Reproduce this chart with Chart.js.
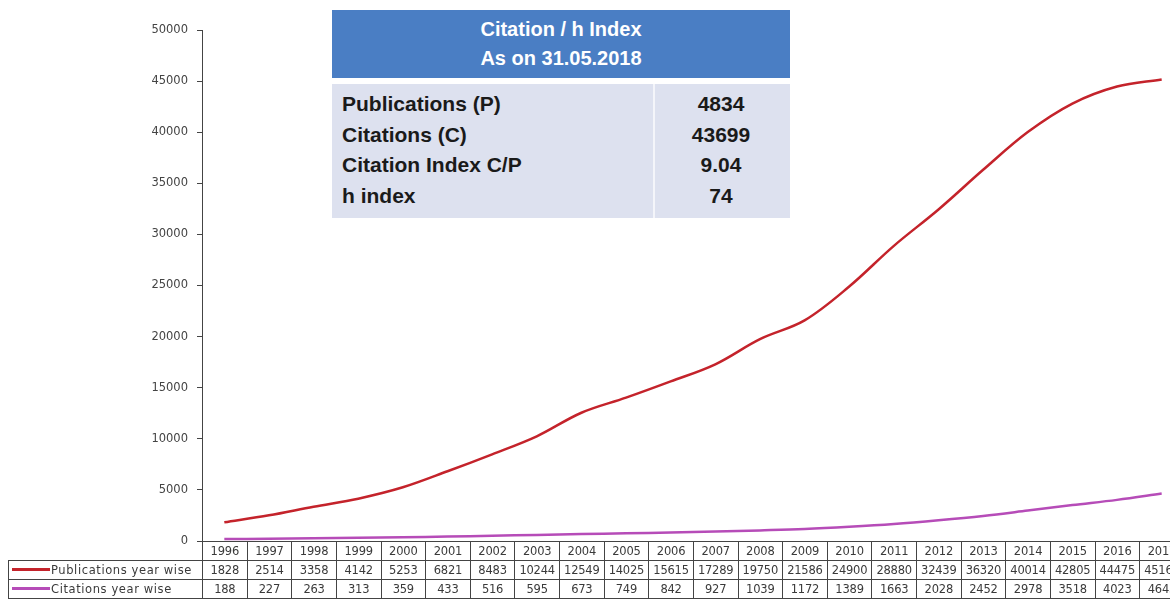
<!DOCTYPE html>
<html lang="en">
<head>
    <meta charset="UTF-8">
    <title>Publications and citations year wise</title>
    <script src="https://cdn.jsdelivr.net/npm/chart.js"></script>
    <style>
        body {
            margin: 0;
            font-family: Arial, "Liberation Sans", sans-serif;
            background: #fff;
        }
        .wrap {
            position: relative;
            width: 1170px;
            height: 605px;
            overflow: hidden;
        }
        #chart {
            position: absolute;
            left: 0;
            top: 0;
        }
        .info-head {
            position: absolute;
            left: 332px;
            top: 10px;
            width: 458px;
            height: 68px;
            background: #4a7ec4;
            color: #fff;
            font-weight: bold;
            font-size: 20px;
            line-height: 29px;
            text-align: center;
            padding-top: 5px;
            box-sizing: border-box;
        }
        .info-body {
            position: absolute;
            left: 332px;
            top: 84px;
            width: 458px;
            height: 134px;
            background: #dde1ef;
            font-weight: bold;
            font-size: 21px;
            line-height: 30.5px;
            color: #1a1a1a;
            padding-top: 5px;
            box-sizing: border-box;
        }
        .info-body .row { display: flex; }
        .info-body .k { width: 320px; padding-left: 10px; box-sizing: border-box; }
        .info-body .v { flex: 1; text-align: center; }
        .divider {
            position: absolute;
            left: 321px;
            top: 0;
            width: 2px;
            height: 134px;
            background: #f4f5fa;
        }
        #dataTable {
            position: absolute;
            top: 541px;
            left: 8px;
            border-collapse: collapse;
            table-layout: fixed;
            font-family: "DejaVu Sans", sans-serif;
            font-size: 11.5px;
            letter-spacing: -0.2px;
            color: #3a3a3a;
        }
        #dataTable td {
            border: 1px solid #444;
            height: 18px;
            padding: 0;
            text-align: center;
            white-space: nowrap;
            overflow: hidden;
        }
        #dataTable td.blank { border: none; }
        #dataTable td.lab {
            text-align: left;
            font-size: 11.5px;
            letter-spacing: 0.6px;
        }
        .swatch {
            display: inline-block;
            width: 38px;
            height: 2.5px;
            vertical-align: middle;
            margin: 0 1px 2px 3px;
        }
    </style>
</head>
<body>
<div class="wrap">
    <canvas id="chart" width="1184" height="605"></canvas>
    <table id="dataTable"></table>
    <div class="info-head">Citation / h Index<br>As on 31.05.2018</div>
    <div class="info-body">
        <div class="divider"></div>
        <div class="row"><div class="k">Publications (P)</div><div class="v">4834</div></div>
        <div class="row"><div class="k">Citations (C)</div><div class="v">43699</div></div>
        <div class="row"><div class="k">Citation Index C/P</div><div class="v">9.04</div></div>
        <div class="row"><div class="k">h index</div><div class="v">74</div></div>
    </div>
</div>

<script>
    // data
    const years = ['1996', '1997', '1998', '1999', '2000', '2001', '2002', '2003', '2004', '2005', '2006',
                   '2007', '2008', '2009', '2010', '2011', '2012', '2013', '2014', '2015', '2016', '2017'];
    const publications = [1828, 2514, 3358, 4142, 5253, 6821, 8483, 10244, 12549, 14025, 15615,
                          17289, 19750, 21586, 24900, 28880, 32439, 36320, 40014, 42805, 44475, 45164];
    const citations = [188, 227, 263, 313, 359, 433, 516, 595, 673, 749, 842,
                       927, 1039, 1172, 1389, 1663, 2028, 2452, 2978, 3518, 4023, 4643];
    const seriesNames = ['Publications year wise', 'Citations year wise'];
    const seriesColors = ['#c4232b', '#b64cb8'];

    const ctx = document.getElementById('chart').getContext('2d');
    const chart = new Chart(ctx, {
        type: 'line',
        data: {
            labels: years,
            datasets: [
                {
                    label: seriesNames[0],
                    data: publications,
                    borderColor: seriesColors[0],
                    borderWidth: 2.5,
                    pointRadius: 0,
                    tension: 0.35
                },
                {
                    label: seriesNames[1],
                    data: citations,
                    borderColor: seriesColors[1],
                    borderWidth: 2.5,
                    pointRadius: 0,
                    tension: 0.35
                }
            ]
        },
        options: {
            responsive: false,
            animation: false,
            layout: { padding: { top: 30, bottom: 64, left: 0, right: 0 } },
            plugins: {
                legend: { display: false },
                tooltip: { enabled: false }
            },
            scales: {
                x: {
                    offset: true,
                    ticks: { display: false },
                    grid: { display: false },
                    border: { color: '#444', width: 1 },
                    afterFit: (scale) => { scale.height = 0; }
                },
                y: {
                    min: 0,
                    max: 50000,
                    ticks: {
                        stepSize: 5000,
                        color: '#444',
                        padding: 9,
                        font: { family: 'DejaVu Sans', size: 11.5 },
                        callback: (v) => String(v)
                    },
                    grid: { drawOnChartArea: false, tickLength: 5, color: '#444' },
                    border: { color: '#444', width: 1 },
                    afterFit: (scale) => { scale.width = 202; }
                }
            }
        }
    });

    // data table under the plot, columns follow the category axis
    const area = chart.chartArea;
    const colW = (area.right - area.left) / years.length;
    const firstW = area.left - 8;
    const table = document.getElementById('dataTable');
    let html = '<colgroup><col style="width:' + firstW + 'px">';
    years.forEach(() => { html += '<col style="width:' + colW + 'px">'; });
    html += '</colgroup><tr><td class="blank"></td>';
    years.forEach(y => { html += '<td>' + y + '</td>'; });
    html += '</tr>';
    [publications, citations].forEach((vals, i) => {
        html += '<tr><td class="lab"><span class="swatch" style="background:' + seriesColors[i] + '"></span>' + seriesNames[i] + '</td>';
        vals.forEach(v => { html += '<td>' + v + '</td>'; });
        html += '</tr>';
    });
    table.innerHTML = html;
    table.style.width = (firstW + colW * years.length) + 'px';
</script>
</body>
</html>
